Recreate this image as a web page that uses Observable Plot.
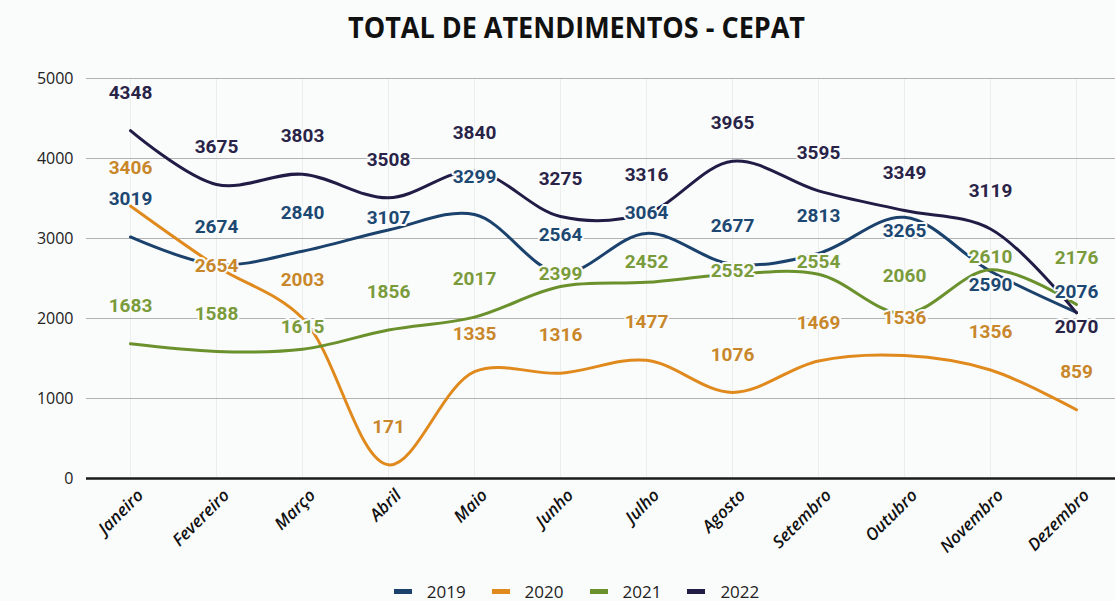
<!DOCTYPE html>
<html>
<head>
<meta charset="utf-8">
<script src="https://cdn.jsdelivr.net/npm/d3@7"></script>
<script src="https://cdn.jsdelivr.net/npm/@observablehq/plot@0.6"></script>
<style>
  html, body { margin: 0; padding: 0; background: #fafcfc; }
  #wrap { width: 1115px; height: 601px; overflow: hidden; position: relative; }
  #title { height: 60px; }
  #legend {
    height: 31px; box-sizing: border-box; padding-top: 12px; padding-left: 38px;
    display: flex; justify-content: center; align-items: center;
    font-family: "Open Sans", sans-serif; font-size: 17px; color: #222; line-height: 20px;
  }
  .item { display: flex; align-items: center; margin: 0 13px; }
  .sw { width: 18px; height: 5px; margin-right: 15px; }
</style>
</head>
<body>
<div id="wrap">
  <div id="title"></div>
  <div id="chart"></div>
  <div id="legend"></div>
</div>
<script>
// ---- data ----
const months = ["Janeiro","Fevereiro","Março","Abril","Maio","Junho","Julho","Agosto","Setembro","Outubro","Novembro","Dezembro"];
const years = ["2019","2020","2021","2022"];
const v2019 = [3019, 2674, 2840, 3107, 3299, 2564, 3064, 2677, 2813, 3265, 2590, 2076];
const v2020 = [3406, 2654, 2003, 171, 1335, 1316, 1477, 1076, 1469, 1536, 1356, 859];
const v2021 = [1683, 1588, 1615, 1856, 2017, 2399, 2452, 2552, 2554, 2060, 2610, 2176];
const v2022 = [4348, 3675, 3803, 3508, 3840, 3275, 3316, 3965, 3595, 3349, 3119, 2070];
const yTicks = [0, 1000, 2000, 3000, 4000, 5000];
const titleText = "TOTAL DE ATENDIMENTOS - CEPAT";

// ---- styles ----
const lineColors = ["#1b416d", "#e08a1e", "#6b912d", "#221b45"];
const labelColors = ["#1d4872", "#c9872b", "#7a9b3b", "#2a2348"];
// label vertical nudges (pixels) where the default (above the point) is not used
const defaultDy = -38;
const labelDy = {
  "2022|Dezembro": 14,
  "2019|Abril": -12, "2019|Julho": -20, "2019|Outubro": 14, "2019|Novembro": 14, "2019|Dezembro": -21,
  "2020|Fevereiro": 0,
  "2021|Março": -22, "2021|Junho": -13, "2021|Julho": -20, "2021|Agosto": -3,
  "2021|Setembro": -12, "2021|Novembro": -13, "2021|Dezembro": -47
};

const series = {"2019": v2019, "2020": v2020, "2021": v2021, "2022": v2022};
const rows = [];
for (const y of years) {
  series[y].forEach((v, i) => {
    const key = y + "|" + months[i];
    rows.push({year: y, month: months[i], value: v, dy: key in labelDy ? labelDy[key] : defaultDy});
  });
}
const labelColorOf = Object.fromEntries(years.map((y, i) => [y, labelColors[i]]));
const dyValues = Array.from(new Set(rows.map(d => d.dy)));

// ---- title ----
document.getElementById("title").innerHTML =
  `<svg width="1115" height="60"><text x="576.5" y="38" text-anchor="middle" textLength="457" lengthAdjust="spacingAndGlyphs"
    font-family="Open Sans, sans-serif" font-weight="700" font-size="29" fill="#111">${titleText}</text></svg>`;

// ---- chart ----
const chart = Plot.plot({
  width: 1115,
  height: 510,
  marginTop: 18,
  marginBottom: 92,
  marginLeft: 86,
  marginRight: 0,
  style: {fontFamily: "Open Sans, sans-serif", background: "transparent", overflow: "visible"},
  x: {type: "point", domain: months, range: [129, 1077], padding: 0},
  y: {domain: [0, 5000]},
  color: {domain: years, range: lineColors},
  marks: [
    Plot.gridX({stroke: "#aaa", strokeOpacity: 0.18}),
    Plot.gridY(yTicks, {stroke: "#999", strokeOpacity: 0.75}),
    Plot.axisY(yTicks, {tickSize: 0, tickPadding: 13, fontSize: 16, fill: "#222", tickFormat: d => String(d), label: null}),
    Plot.axisX({tickRotate: -45, tickSize: 0, tickPadding: 14, dx: 10, fontSize: 17, fontStyle: "italic", fontWeight: 600, fill: "#111", label: null}),
    Plot.ruleY([0], {stroke: "#1a1a1a", strokeWidth: 2.5}),
    Plot.line(rows, {x: "month", y: "value", z: "year", stroke: "year", curve: "catmull-rom", strokeWidth: 3}),
    ...dyValues.map(dy => Plot.text(rows.filter(d => d.dy === dy), {
      x: "month", y: "value", text: d => String(d.value), dy,
      fill: d => labelColorOf[d.year], fontFamily: "Roboto", fontWeight: 700, fontSize: 19,
      stroke: "#fafcfc", strokeWidth: 4
    }))
  ]
});
document.getElementById("chart").appendChild(chart);

// ---- legend ----
document.getElementById("legend").innerHTML = years.map((y, i) =>
  `<div class="item"><div class="sw" style="background:${lineColors[i]}"></div><span>${y}</span></div>`).join("");
</script>
</body>
</html>
